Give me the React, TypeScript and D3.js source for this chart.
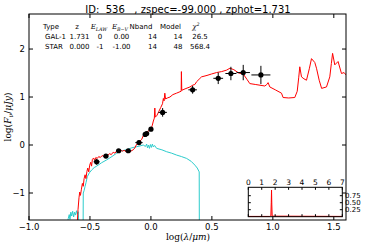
import React from 'react';
import * as d3 from 'd3';

// best-fit galaxy template (log lambda, log flux)
const galaxySed: [number, number][] = [
  [-0.606, -1.7], [-0.598, -1.35], [-0.59, -1.1], [-0.584, -0.98], [-0.578, -1.05],
  [-0.57, -0.92], [-0.562, -0.8], [-0.555, -0.86], [-0.548, -0.7], [-0.54, -0.62],
  [-0.533, -0.7], [-0.525, -0.55], [-0.518, -0.48], [-0.51, -0.56], [-0.502, -0.42],
  [-0.494, -0.36], [-0.487, -0.44], [-0.48, -0.3], [-0.47, -0.27], [-0.462, -0.32],
  [-0.452, -0.26], [-0.44, -0.28], [-0.428, -0.24], [-0.415, -0.26], [-0.4, -0.22],
  [-0.385, -0.24], [-0.37, -0.2], [-0.355, -0.22], [-0.34, -0.18], [-0.325, -0.2],
  [-0.31, -0.15], [-0.295, -0.17], [-0.28, -0.12], [-0.265, -0.14], [-0.25, -0.1],
  [-0.235, -0.13], [-0.22, -0.11], [-0.205, -0.14], [-0.19, -0.11], [-0.175, -0.15],
  [-0.16, -0.12], [-0.145, -0.1], [-0.132, -0.06], [-0.12, 0.0], [-0.11, 0.03],
  [-0.1, 0.02], [-0.09, 0.08], [-0.075, 0.12], [-0.062, 0.2], [-0.05, 0.23],
  [-0.04, 0.26], [-0.03, 0.28], [-0.015, 0.3], [0.0, 0.33], [0.01, 0.4],
  [0.02, 0.5], [0.028, 0.56], [0.032, 0.77], [0.036, 0.58], [0.05, 0.62],
  [0.065, 0.7], [0.08, 0.78], [0.095, 0.86], [0.102, 0.97], [0.108, 0.92],
  [0.114, 1.08], [0.12, 0.96], [0.135, 0.98], [0.156, 1.0], [0.18, 1.05],
  [0.21, 1.08], [0.238, 1.11], [0.248, 1.12], [0.25, 1.53], [0.253, 1.14],
  [0.28, 1.17], [0.32, 1.21], [0.345, 1.25], [0.36, 1.26], [0.375, 1.32],
  [0.395, 1.37], [0.415, 1.42], [0.46, 1.45], [0.497, 1.48], [0.538, 1.51],
  [0.58, 1.53], [0.62, 1.56], [0.648, 1.6], [0.68, 1.57], [0.72, 1.5],
  [0.757, 1.48], [0.79, 1.36], [0.811, 1.28], [0.86, 1.26], [0.934, 1.23],
  [0.95, 1.26], [0.961, 1.3], [0.975, 1.21], [1.02, 1.15], [1.071, 1.08],
  [1.084, 0.99], [1.13, 0.98], [1.18, 0.99], [1.2, 1.12], [1.212, 1.4],
  [1.221, 1.63], [1.235, 1.42], [1.255, 1.38], [1.276, 1.35], [1.3, 1.6],
  [1.317, 1.8], [1.344, 1.72], [1.358, 1.6], [1.38, 1.35], [1.4, 1.18],
  [1.44, 1.21], [1.467, 1.42], [1.48, 1.7], [1.49, 1.91], [1.508, 1.67],
  [1.535, 1.74], [1.563, 1.49], [1.584, 1.51], [1.6, 1.46],
];

// best-fit star template
const starSed: [number, number][] = [
  [-0.69, -1.7], [-0.678, -1.53], [-0.67, -1.45], [-0.664, -1.55], [-0.657, -1.4],
  [-0.65, -1.48], [-0.642, -1.38], [-0.634, -1.5], [-0.626, -1.4], [-0.618, -1.46],
  [-0.61, -1.37], [-0.602, -1.44], [-0.596, -1.39], [-0.59, -1.7], [-0.556, -1.7],
  [-0.555, -1.0], [-0.548, -0.95], [-0.541, -0.87], [-0.532, -0.78], [-0.522, -0.66],
  [-0.505, -0.58], [-0.486, -0.52], [-0.465, -0.47], [-0.445, -0.44], [-0.405, -0.37],
  [-0.363, -0.31], [-0.32, -0.24], [-0.281, -0.17], [-0.24, -0.12], [-0.199, -0.1],
  [-0.16, -0.06], [-0.117, -0.035], [-0.09, -0.02], [-0.063, 0.0], [-0.045, -0.03],
  [-0.035, 0.02], [-0.028, -0.06], [-0.02, 0.0], [-0.012, -0.07], [-0.004, 0.01],
  [0.004, -0.05], [0.012, 0.02], [0.02, -0.04], [0.03, -0.01], [0.047, -0.07],
  [0.09, -0.1], [0.129, -0.14], [0.17, -0.17], [0.211, -0.21], [0.25, -0.24],
  [0.293, -0.28], [0.33, -0.34], [0.361, -0.42], [0.38, -0.48], [0.396, -0.56],
  [0.397, -1.7],
];

// photometry
const photX = [-0.445, -0.369, -0.265, -0.186, -0.098, -0.047, -0.035, 0.0, 0.096, 0.342, 0.552, 0.656, 0.757, 0.902];
const photY = [-0.35, -0.23, -0.12, -0.12, 0.05, 0.22, 0.24, 0.33, 0.68, 1.15, 1.39, 1.49, 1.51, 1.46];
const photXErr = [0.025, 0.02, 0.02, 0.025, 0.03, 0.015, 0.015, 0.012, 0.035, 0.035, 0.04, 0.045, 0.055, 0.078];
const photYErr = [0.06, 0.04, 0.03, 0.03, 0.05, 0.03, 0.03, 0.03, 0.09, 0.08, 0.12, 0.14, 0.16, 0.19];

// p(z)
const zGrid = [0, 1.6, 1.68, 1.71, 1.731, 1.75, 1.78, 7];
const pz = [0.01, 0.01, 0.05, 0.5, 0.95, 0.45, 0.02, 0.01];

const xTicks = [-1.0, -0.5, 0.0, 0.5, 1.0, 1.5];
const yTicks = [-1, 0, 1, 2];
const zTicks = [0, 1, 2, 3, 4, 5, 6, 7];
const pTicks = [0.25, 0.5, 0.75];

const tableRows = [
  ['GAL-1', '1.731', '0', '0.00', '14', '14', '26.5'],
  ['STAR', '0.000', '-1', '-1.00', '14', '48', '568.4'],
];

const title = 'ID:  536   , zspec=-99.000 , zphot=1.731';

const fmt = (v: number, d: number) => {
  const s = v.toFixed(d);
  return v < 0 ? '\u2212' + s.slice(1) : s;
};

export default function App() {
  const W = 368;
  const H = 245;
  const x = d3.scaleLinear().domain([-1, 1.6]).range([29, 346]);
  const y = d3.scaleLinear().domain([-1.5625, 2.73]).range([220, 14]);
  const line = d3.line<[number, number]>().x((d) => x(d[0])).y((d) => y(d[1]));

  // inset
  const ix = d3.scaleLinear().domain([0, 7]).range([248.3, 342.3]);
  const iy = d3.scaleLinear().domain([0, 1.05]).range([216.7, 187.3]);
  const pzPts = zGrid.map((z, i) => [z, pz[i]] as [number, number]);
  const pzLine = d3.line<[number, number]>().x((d) => ix(d[0])).y((d) => iy(d[1]));
  const pzArea = d3.area<[number, number]>().x((d) => ix(d[0])).y0(iy(0)).y1((d) => iy(d[1]));

  const sans = 'DejaVu Sans, sans-serif';
  const serif = 'DejaVu Serif, serif';
  const tk = 4;
  const colX = [45, 79.5, 100, 121.5, 152.5, 178, 200];

  return (
    <svg width={W} height={H} style={{ position: 'absolute', left: 0, top: 0, background: '#fff' }}>
      <rect width={W} height={H} fill="#fff" />
      <text x={188} y={12.5} textAnchor="middle" fontFamily={sans} fontSize={10} style={{ whiteSpace: 'pre' }}>
        {title}
      </text>

      <defs>
        <clipPath id="plotClip">
          <rect x={29} y={14} width={317} height={206} />
        </clipPath>
      </defs>

      <g clipPath="url(#plotClip)">
        <path d={line(starSed) || ''} fill="none" stroke="#2ccccc" strokeWidth={1} />
        <path d={line(galaxySed) || ''} fill="none" stroke="#ff0000" strokeWidth={1} />
        {photX.map((px, i) => (
          <g key={i}>
            <line x1={x(px - photXErr[i])} x2={x(px + photXErr[i])} y1={y(photY[i])} y2={y(photY[i])} stroke="#000" strokeWidth={1} />
            <line x1={x(px)} x2={x(px)} y1={y(photY[i] - photYErr[i])} y2={y(photY[i] + photYErr[i])} stroke="#000" strokeWidth={1} />
            <circle cx={x(px)} cy={y(photY[i])} r={2.6} fill="#000" />
          </g>
        ))}
      </g>

      {/* frame + ticks */}
      <rect x={29} y={14} width={317} height={206} fill="none" stroke="#000" strokeWidth={1} />
      {xTicks.map((t) => (
        <g key={'x' + t}>
          <line x1={x(t)} x2={x(t)} y1={220} y2={220 - tk} stroke="#000" />
          <line x1={x(t)} x2={x(t)} y1={14} y2={14 + tk} stroke="#000" />
          <text x={x(t)} y={230} textAnchor="middle" fontFamily={sans} fontSize={8.5}>
            {fmt(t, 1)}
          </text>
        </g>
      ))}
      {yTicks.map((t) => (
        <g key={'y' + t}>
          <line x1={29} x2={29 + tk} y1={y(t)} y2={y(t)} stroke="#000" />
          <line x1={346} x2={346 - tk} y1={y(t)} y2={y(t)} stroke="#000" />
          <text x={25} y={y(t) + 3} textAnchor="end" fontFamily={sans} fontSize={8.5}>
            {fmt(t, 0)}
          </text>
        </g>
      ))}

      <text x={188} y={240} textAnchor="middle" fontFamily={serif} fontSize={9}>
        log(<tspan fontStyle="italic">λ</tspan>/<tspan fontStyle="italic">μm</tspan>)
      </text>
      <text transform="translate(11,117) rotate(-90)" textAnchor="middle" fontFamily={serif} fontSize={9}>
        log(<tspan fontStyle="italic">F</tspan>
        <tspan fontStyle="italic" fontSize={6.5} dy={2}>ν</tspan>
        <tspan dy={-2}>/</tspan>
        <tspan fontStyle="italic">μJy</tspan>)
      </text>

      {/* fit table */}
      <g fontFamily={sans} fontSize={7}>
        <text x={51} y={29} textAnchor="middle">Type</text>
        <text x={77} y={29} textAnchor="middle">z</text>
        <text x={99} y={29} textAnchor="middle" fontFamily={serif} fontStyle="italic">
          E<tspan fontSize={4.8} dy={1.5}>LAW</tspan>
        </text>
        <text x={120} y={29} textAnchor="middle" fontFamily={serif} fontStyle="italic">
          E<tspan fontSize={4.8} dy={1.5}>B−V</tspan>
        </text>
        <text x={141} y={29} textAnchor="middle">Nband</text>
        <text x={170.5} y={29} textAnchor="middle">Model</text>
        <text x={196} y={29} textAnchor="middle" fontFamily={serif} fontStyle="italic">
          χ<tspan fontSize={4.8} dy={-3}>2</tspan>
        </text>
        {tableRows.map((row, r) => (
          <g key={r}>
            {row.map((cell, c) => (
              <text key={c} x={colX[c]} y={39 + r * 10} textAnchor={c === 0 ? 'start' : 'middle'}>
                {cell}
              </text>
            ))}
          </g>
        ))}
      </g>

      {/* p(z) inset */}
      <rect x={248.3} y={187.3} width={94} height={29.4} fill="#fff" />
      <path d={pzArea(pzPts) || ''} fill="#ff0000" fillOpacity={0.3} />
      <path d={pzLine(pzPts) || ''} fill="none" stroke="#ff0000" strokeWidth={1} />
      <rect x={248.3} y={187.3} width={94} height={29.4} fill="none" stroke="#000" strokeWidth={1} />
      {zTicks.map((t) => (
        <g key={'z' + t}>
          <line x1={ix(t)} x2={ix(t)} y1={216.7} y2={216.7 - 2.5} stroke="#000" />
          <line x1={ix(t)} x2={ix(t)} y1={187.3} y2={187.3 + 2.5} stroke="#000" />
          <text x={ix(t)} y={185} textAnchor="middle" fontFamily={sans} fontSize={7.5}>
            {t}
          </text>
        </g>
      ))}
      {pTicks.map((t) => (
        <g key={'p' + t}>
          <line x1={248.3} x2={248.3 + 2.5} y1={iy(t)} y2={iy(t)} stroke="#000" />
          <line x1={342.3} x2={342.3 - 2.5} y1={iy(t)} y2={iy(t)} stroke="#000" />
          <text x={345} y={iy(t) + 2.6} fontFamily={sans} fontSize={7}>
            {t.toFixed(2)}
          </text>
        </g>
      ))}
    </svg>
  );
}
